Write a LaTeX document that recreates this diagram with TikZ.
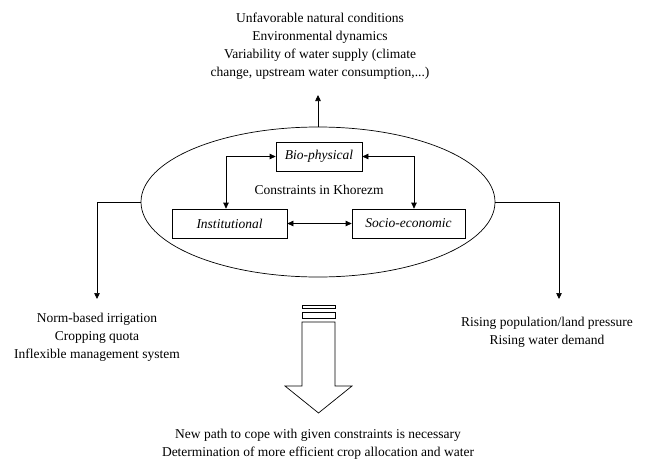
\documentclass[tikz,border=0pt]{standalone}
\usepackage{fontspec}
\setmainfont{Liberation Serif}
\usetikzlibrary{arrows.meta,shapes.geometric}
\begin{document}
\begin{tikzpicture}[x=1pt,y=-1pt,
  line width=0.7pt,
  arr/.style={-{Triangle[length=6pt,width=5.5pt]}},
  darr/.style={{Triangle[length=6pt,width=5.5pt]}-{Triangle[length=6pt,width=5.5pt]}},
  cbox/.style={draw,minimum height=29pt,inner sep=0pt,font=\fontsize{13.5}{15}\selectfont\itshape},
  txt/.style={align=center,font=\fontsize{13.5}{18}\selectfont,inner sep=0pt}]
\useasboundingbox (0,0) rectangle (646,464);
\node[draw,ellipse,minimum width=354pt,minimum height=150pt,inner sep=0pt] (ell) at (318,202) {};
\node[cbox,minimum width=86pt] (bio) at (319,156.5) {Bio-physical};
\node[cbox,minimum width=115pt] (inst) at (229.5,223.5) {Institutional};
\node[cbox,minimum width=113pt] (soc) at (408.5,223.5) {Socio-economic};
\node[txt] (cik) at (319,190) {Constraints in Khorezm};
\draw[darr] (bio.west) -| (inst.north -| 226,0);
\draw[darr] (bio.east) -| (soc.north -| 414,0);
\draw[darr] (inst.east) -- (soc.west);
% top
\node[txt,anchor=north] (toptxt) at (320,13) {Unfavorable natural conditions\\Environmental dynamics\\Variability of water supply (climate\\change, upstream water consumption,...)};
\coordinate (topend) at (318,95);
\draw[arr] (ell.north) -- (topend);
% left
\coordinate (lend) at (97,299);
\node[txt,anchor=north] (ltxt) at (97,313) {Norm-based irrigation\\Cropping quota\\Inflexible management system};
\draw[arr] (ell.west) -| (lend);
% right
\coordinate (rend) at (559,299);
\node[txt,anchor=north] (rtxt) at (547,317) {Rising population/land pressure\\Rising water demand};
\draw[arr] (ell.east) -| (rend);
% block arrow
\draw (302,305) rectangle (335,308.5);
\draw (302,312) rectangle (335,318.5);
\draw (302,322) -- (335,322) -- (335,386) -- (352,386) -- (318.5,413) -- (285,386) -- (302,386) -- cycle;
\node[txt,anchor=north] (btxt) at (318,429) {New path to cope with given constraints is necessary\\Determination of more efficient crop allocation and water};
\end{tikzpicture}
\end{document}
